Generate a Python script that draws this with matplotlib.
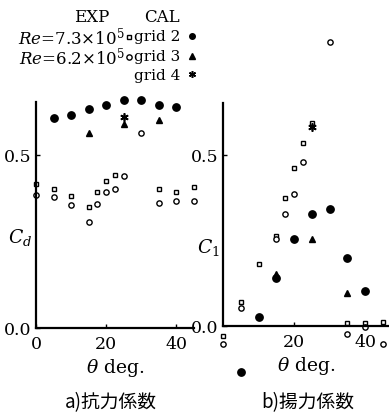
import numpy as np
import matplotlib.pyplot as plt

plt.rcParams['font.family'] = ['DejaVu Serif']
plt.rcParams['mathtext.fontset'] = 'dejavuserif'

# --- Daten ---
theta_cal = [5, 10, 15, 20, 25, 30, 35, 40]
theta_g3 = [15, 25, 35]
theta_g4 = [25]

# Widerstandsbeiwert Cd
cd_grid2 = [0.607, 0.616, 0.633, 0.643, 0.659, 0.659, 0.643, 0.638]
cd_grid3 = [0.563, 0.588, 0.601]
cd_grid4 = [0.611]
theta_cd_73 = [0, 5, 10, 15, 17.5, 20, 22.5, 35, 40, 45]
cd_exp_73 = [0.416, 0.402, 0.382, 0.349, 0.394, 0.426, 0.442, 0.402, 0.394, 0.408]
theta_cd_62 = [0, 5, 10, 15, 17.5, 20, 22.5, 25, 30, 35, 40, 45]
cd_exp_62 = [0.385, 0.378, 0.355, 0.305, 0.358, 0.392, 0.402, 0.440, 0.563, 0.360, 0.368, 0.366]

# Auftriebsbeiwert Cl
cl_grid2 = [-0.135, 0.027, 0.140, 0.254, 0.327, 0.342, 0.198, 0.103]
cl_grid3 = [0.152, 0.254, 0.096]
cl_grid4 = [0.581]
theta_cl_73 = [0, 5, 10, 15, 17.5, 20, 22.5, 25, 35, 40, 45]
cl_exp_73 = [-0.030, 0.071, 0.181, 0.262, 0.374, 0.461, 0.534, 0.593, 0.009, 0.008, 0.013]
theta_cl_62 = [0, 5, 15, 17.5, 20, 22.5, 30, 35, 40, 45]
cl_exp_62 = [-0.054, 0.053, 0.254, 0.327, 0.386, 0.480, 0.830, -0.023, -0.004, -0.053]

W, H = 389, 414
fig = plt.figure(figsize=(W / 100, H / 100), dpi=100)

def px_axes(x0, x1, y_top, y_bot):
    return fig.add_axes([x0 / W, (H - y_bot) / H, (x1 - x0) / W, (y_bot - y_top) / H])

def style(ax):
    for s in ['top', 'right']:
        ax.spines[s].set_visible(False)
    for s in ['left', 'bottom']:
        ax.spines[s].set_linewidth(1.6)
    ax.tick_params(direction='in', length=3, width=1, labelsize=12.5, pad=3)
    ax.tick_params(axis='x', pad=5)
    ax.set_yticks([0.0, 0.5])
    ax.set_yticklabels(['0.0', '0.5'])

def draw(ax, th_sq, v_sq, th_ci, v_ci, v2, v3, v4):
    kw = dict(linestyle='none', clip_on=False, color='black')
    ax.plot(th_sq, v_sq, marker='s', ms=3.3, mfc='white', mew=1.0, **kw)
    ax.plot(th_ci, v_ci, marker='o', ms=3.8, mfc='white', mew=1.0, **kw)
    ax.plot(theta_cal, v2, marker='o', ms=5.3, **kw)
    ax.plot(theta_g3, v3, marker='^', ms=4.8, **kw)
    ax.plot(theta_g4, v4, marker=(6, 2, 0), ms=6, mew=1.2, **kw)

# a) Cd
ax1 = px_axes(36, 193.5, 103, 329)
ax1.set_xlim(0, 45)
ax1.set_ylim(0, 0.653)
style(ax1)
ax1.set_xticks([0, 20, 40])
draw(ax1, theta_cd_73, cd_exp_73, theta_cd_62, cd_exp_62, cd_grid2, cd_grid3, cd_grid4)
ax1.set_ylabel('$C_d$', fontsize=13.5, rotation=0, labelpad=0)
ax1.yaxis.set_label_coords(-0.1, 0.36)
ax1.set_xlabel(r'$\theta$ deg.', fontsize=13.5, labelpad=3)

# b) Cl
ax2 = px_axes(223, 389, 104, 327)
ax2.set_xlim(0, 46.7)
ax2.set_ylim(0, 0.652)
style(ax2)
ax2.set_xticks([20, 40])
draw(ax2, theta_cl_73, cl_exp_73, theta_cl_62, cl_exp_62, cl_grid2, cl_grid3, cl_grid4)
ax2.set_ylabel('$C_1$', fontsize=13.5, rotation=0, labelpad=0)
ax2.yaxis.set_label_coords(-0.09, 0.31)
ax2.set_xlabel(r'$\theta$ deg.', fontsize=13.5, labelpad=3)

# Legende in Pixelkoordinaten
lg = fig.add_axes([0, 0, 1, 1])
lg.set_xlim(0, W)
lg.set_ylim(H, 0)
lg.axis('off')
fs = 12
lg.text(92, 17, 'EXP', fontsize=fs, ha='center', va='center')
lg.text(162, 17, 'CAL', fontsize=fs, ha='center', va='center')
lg.text(125, 37, r'$Re$=7.3$\times$10$^5$', fontsize=fs, ha='right', va='center')
lg.text(125, 57, r'$Re$=6.2$\times$10$^5$', fontsize=fs, ha='right', va='center')
lg.plot([129], [38], marker='s', ms=3.3, mfc='white', mec='black', mew=1.0)
lg.plot([129], [58], marker='o', ms=3.8, mfc='white', mec='black', mew=1.0)
for y, t in [(37, 'grid 2'), (57, 'grid 3'), (76, 'grid 4')]:
    lg.text(134, y, t, fontsize=11, ha='left', va='center')
lg.plot([192], [37], marker='o', ms=4, color='black')
lg.plot([192], [57], marker='^', ms=4, color='black')
lg.plot([192], [75], marker=(6, 2, 0), ms=5, mew=1.1, color='black')

lg.text(111, 403, 'a)抗力係数', fontsize=13.5, ha='center', va='center',
        family=['Noto Sans CJK JP', 'DejaVu Sans'])
lg.text(308, 403, 'b)揚力係数', fontsize=13.5, ha='center', va='center',
        family=['Noto Sans CJK JP', 'DejaVu Sans'])

fig.savefig('out.png', dpi=100)
